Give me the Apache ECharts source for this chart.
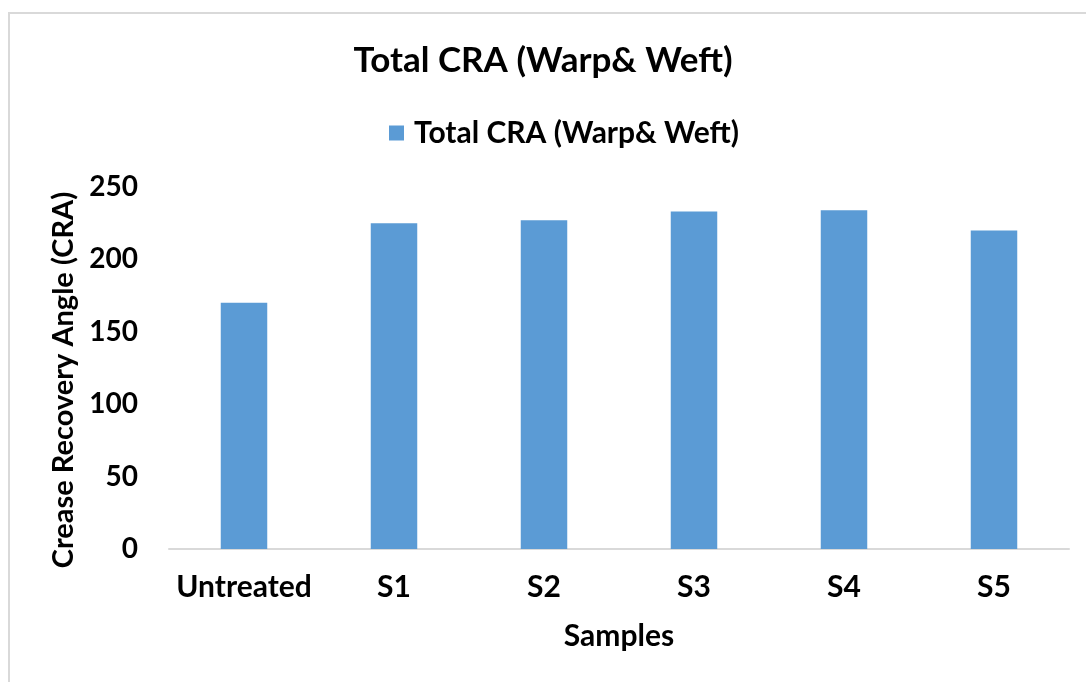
<!DOCTYPE html>
<html>
<head>
<meta charset="utf-8">
<script src="https://cdn.jsdelivr.net/npm/echarts@6/dist/echarts.min.js"></script>
<style>
  html, body { margin: 0; padding: 0; background: #fff; }
  #chart { width: 1086px; height: 682px; }
</style>
</head>
<body>
<div id="chart"></div>
<script>
// data
var samples = ["Untreated", "S1", "S2", "S3", "S4", "S5"];
var totalCRA = [170, 225, 227, 233, 234, 220];
var seriesName = "Total CRA (Warp& Weft)";

var font = "Lato, 'Open Sans', sans-serif";
var chart = echarts.init(document.getElementById("chart"));

chart.setOption({
  animation: false,
  backgroundColor: "#fff",
  graphic: [{
    type: "rect",
    shape: { x: 9, y: 13, width: 1100, height: 700 },
    style: { fill: "none", stroke: "#d9d9d9", lineWidth: 2 },
    silent: true
  }],
  title: {
    text: seriesName,
    left: "center",
    top: 38,
    textStyle: { fontFamily: font, fontWeight: "bold", fontSize: 35, color: "#000" }
  },
  legend: {
    data: [seriesName],
    top: 113,
    left: 384,
    itemWidth: 15,
    itemHeight: 15,
    icon: "rect",
    textStyle: { fontFamily: font, fontWeight: "bold", fontSize: 30, color: "#000", padding: [0, 0, 0, 5] }
  },
  grid: { left: 169, right: 17, top: 187, bottom: 133 },
  xAxis: {
    type: "category",
    data: samples,
    name: "Samples",
    nameLocation: "middle",
    nameGap: 72,
    nameTextStyle: { fontFamily: font, fontWeight: "bold", fontSize: 30, color: "#000" },
    axisLine: { lineStyle: { color: "#d9d9d9", width: 2 } },
    axisTick: { show: false },
    axisLabel: { interval: 0, fontFamily: font, fontWeight: "bold", fontSize: 30, color: "#000", margin: 23 }
  },
  yAxis: {
    type: "value",
    min: 0,
    max: 250,
    interval: 50,
    name: "Crease Recovery Angle (CRA)",
    nameLocation: "middle",
    nameGap: 74,
    nameTextStyle: { fontFamily: font, fontWeight: "bold", fontSize: 29, color: "#000", padding: [0, 24, 0, 0] },
    axisLine: { show: false },
    axisTick: { show: false },
    splitLine: { show: false },
    axisLabel: { fontFamily: font, fontWeight: "bold", fontSize: 28, color: "#000", margin: 31 }
  },
  series: [{
    name: seriesName,
    type: "bar",
    data: totalCRA,
    barWidth: "31%",
    itemStyle: { color: "#5b9bd5" }
  }]
});
</script>
</body>
</html>
